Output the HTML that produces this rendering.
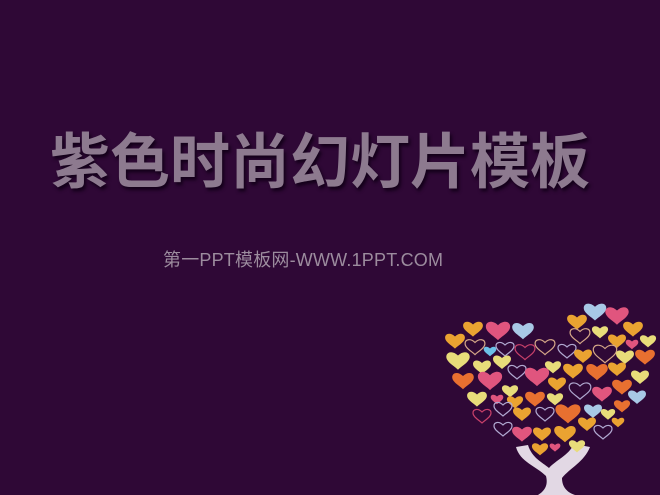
<!DOCTYPE html>
<html><head><meta charset="utf-8"><style>
body{margin:0}
#slide{position:relative;width:660px;height:495px;background:#2f0836;overflow:hidden;font-family:"Liberation Sans","Noto Sans CJK SC",sans-serif}
#title{position:absolute;left:50px;top:114px;font-size:60px;font-weight:bold;color:#8d7a8f;letter-spacing:0px;white-space:nowrap;text-shadow:2px 3px 3px #14011a;font-family:"Noto Sans CJK SC","WenQuanYi Zen Hei",sans-serif}
#sub{position:absolute;left:163px;top:246px;font-size:18px;letter-spacing:0.2px;color:#9c8c9e;white-space:nowrap}
</style></head><body>
<div id="slide">
<div id="title">紫色时尚幻灯片模板</div>
<div id="sub">第一PPT模板网-WWW.1PPT.COM</div>
<svg id="tree" width="660" height="495" style="position:absolute;left:0;top:0">
<path d="M516,447 L528,445 C532,458 542,462 549,468 C556,460 568,456 574,444 L590,447 C584,462 570,468 562,478 C562,486 566,492 575,495 L538,495 C546,490 548,484 546,476 C536,466 520,462 516,447Z" fill="#e2d8e4"/>
<g id="hearts"></g>
</svg>
</div>
<script>
const hearts=[[595,313,1.25,'#a8c8e6',0],[617,317,1.3,'#e0557e',0],[577,323,1.1,'#eaa331',0],[473,330,1.1,'#eaa331',0],[498,332,1.35,'#e0557e',0],[523,332,1.2,'#a8c8e6',0],[633,330,1.1,'#eaa331',0],[455,342,1.1,'#eaa331',0],[475,348,1.1,'#d6a888',1],[505,350,1.0,'#b0a8d0',1],[490,352,0.7,'#6cc0e8',0],[525,353,1.1,'#c8406a',1],[545,348,1.1,'#d6a888',1],[567,352,1.0,'#b0a8d0',1],[580,337,1.1,'#d6a888',1],[600,333,0.9,'#e8dc7a',0],[617,342,1.0,'#eaa331',0],[632,345,0.7,'#e0557e',0],[648,342,0.9,'#e8dc7a',0],[458,362,1.3,'#e8dc7a',0],[482,368,1.0,'#e8dc7a',0],[502,363,1.0,'#e8dc7a',0],[517,373,1.0,'#b0a8d0',1],[537,378,1.35,'#e0557e',0],[553,368,0.9,'#e8dc7a',0],[573,372,1.1,'#eaa331',0],[583,357,1.0,'#eaa331',0],[605,355,1.3,'#d6a888',1],[625,358,1.0,'#e8dc7a',0],[645,358,1.1,'#e87030',0],[463,382,1.2,'#e87030',0],[490,382,1.35,'#e0557e',0],[510,392,0.9,'#e8dc7a',0],[557,385,1.0,'#eaa331',0],[580,392,1.2,'#b0a8d0',1],[597,373,1.2,'#e87030',0],[617,370,1.0,'#eaa331',0],[640,378,1.0,'#e8dc7a',0],[602,395,1.1,'#e0557e',0],[622,388,1.1,'#e87030',0],[637,398,1.0,'#a8c8e6',0],[477,400,1.1,'#e8dc7a',0],[497,400,0.7,'#e0557e',0],[515,403,0.9,'#eaa331',0],[535,400,1.1,'#e87030',0],[555,400,0.9,'#e8dc7a',0],[503,410,1.0,'#b0a8d0',1],[482,417,1.0,'#c8406a',1],[522,415,1.0,'#eaa331',0],[545,415,1.0,'#b0a8d0',1],[568,415,1.4,'#e87030',0],[593,412,1.0,'#a8c8e6',0],[608,415,0.8,'#e8dc7a',0],[622,407,0.9,'#e87030',0],[503,430,1.0,'#b0a8d0',1],[522,435,1.1,'#e0557e',0],[542,435,1.0,'#eaa331',0],[565,435,1.2,'#eaa331',0],[587,425,1.0,'#eaa331',0],[603,433,1.0,'#b0a8d0',1],[618,423,0.7,'#eaa331',0],[540,450,0.9,'#eaa331',0],[555,448,0.6,'#e0557e',0],[577,447,0.9,'#e8dc7a',0]];
const g=document.getElementById('hearts');
const d="M0,6 C-3,3 -9,0 -9,-4 C-9,-8 -4,-9 0,-5 C4,-9 9,-8 9,-4 C9,0 3,3 0,6Z";
hearts.forEach((h,i)=>{
 const p=document.createElementNS('http://www.w3.org/2000/svg','path');
 p.setAttribute('d',d);
 p.setAttribute('transform',`translate(${h[0]},${h[1]}) scale(${h[2]})`);
 if(h[4]){p.setAttribute('fill','none');p.setAttribute('stroke',h[3]);p.setAttribute('stroke-width',1.2/h[2]);}
 else p.setAttribute('fill',h[3]);
 
 
 g.appendChild(p);
});
</script>
</body></html>
